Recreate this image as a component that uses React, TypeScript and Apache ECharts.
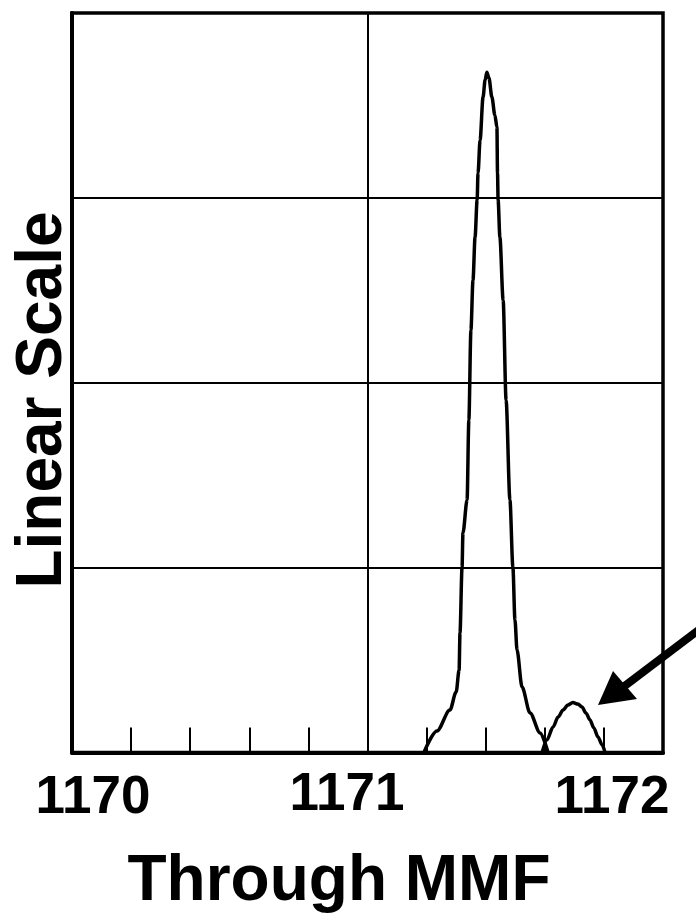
import React, { useEffect, useRef } from "react";
import * as echarts from "echarts";

// Main transmission peak (x: wavelength-like axis value, y: linear scale)
const mainPeakX = [
  1171.191, 1171.235, 1171.279, 1171.3, 1171.31, 1171.313, 1171.32, 1171.323,
  1171.337, 1171.343, 1171.35, 1171.357, 1171.364, 1171.371, 1171.374, 1171.381,
  1171.391, 1171.398, 1171.404, 1171.411, 1171.421, 1171.431, 1171.438, 1171.44,
  1171.442, 1171.448, 1171.459, 1171.469, 1171.482, 1171.492, 1171.499, 1171.506,
  1171.523, 1171.55, 1171.584, 1171.611,
];
const mainPeakY = [
  0, 0.116, 0.23, 0.327, 0.446, 0.646, 1.003, 1.187,
  1.366, 1.798, 2.285, 2.555, 2.788, 2.988, 3.134, 3.313,
  3.545, 3.637, 3.68, 3.648, 3.545, 3.448, 3.383, 3.134,
  2.988, 2.788, 2.447, 1.906, 1.366, 1.003, 0.717, 0.554,
  0.354, 0.214, 0.106, 0,
];

// Small side peak (pointed to by the arrow)
const sidePeakX = [
  1171.591, 1171.607, 1171.628, 1171.645, 1171.662, 1171.678, 1171.695, 1171.712,
  1171.726, 1171.739, 1171.753, 1171.766, 1171.78, 1171.794, 1171.804,
];
const sidePeakY = [
  0, 0.068, 0.138, 0.192, 0.23, 0.257, 0.27, 0.262,
  0.246, 0.214, 0.176, 0.133, 0.084, 0.041, 0,
];

const xTickLabels = ["1170", "1171", "1172"];
const xAxisTitle = "Through MMF";
const yAxisTitle = "Linear Scale";

const FONT = '"Liberation Sans", Arial, Helvetica, sans-serif';

export default function App() {
  const ref = useRef<HTMLDivElement>(null);

  useEffect(() => {
    if (!ref.current) return;
    const chart = echarts.init(ref.current, undefined, { renderer: "svg" });

    const mainData = mainPeakX.map((x, i) => [x, mainPeakY[i]]);
    const sideData = sidePeakX.map((x, i) => [x, sidePeakY[i]]);

    const labelPos = [
      { x: 93, y: 794 },
      { x: 347, y: 791 },
      { x: 612, y: 794 },
    ];

    const option: any = {
      animation: false,
      backgroundColor: "#ffffff",
      grid: {
        left: 72,
        top: 13,
        right: 33,
        bottom: 160.5,
        show: true,
        borderColor: "#000",
        borderWidth: 3.5,
        backgroundColor: "transparent",
      },
      xAxis: {
        type: "value",
        min: 1170,
        max: 1172,
        interval: 0.2,
        axisLine: { show: true, lineStyle: { color: "#000", width: 4 } },
        axisTick: { show: true, inside: true, length: 25, lineStyle: { color: "#000", width: 2 } },
        axisLabel: { show: false },
        splitLine: { show: false },
      },
      yAxis: {
        type: "value",
        min: 0,
        max: 4,
        interval: 1,
        axisLine: { show: true, lineStyle: { color: "#000", width: 4 } },
        axisTick: { show: false },
        axisLabel: { show: false },
        splitLine: { show: true, lineStyle: { color: "#000", width: 2 } },
      },
      series: [
        {
          type: "line",
          data: mainData,
          showSymbol: false,
          smooth: 0.3,
          smoothMonotone: "x",
          lineStyle: { color: "#000", width: 3.5 },
          z: 5,
          markLine: {
            silent: true,
            symbol: "none",
            label: { show: false },
            lineStyle: { color: "#000", width: 2, type: "solid" },
            data: [{ xAxis: 1171 }],
          },
        },
        {
          type: "line",
          data: sideData,
          showSymbol: false,
          smooth: 0.3,
          smoothMonotone: "x",
          lineStyle: { color: "#000", width: 3.5 },
          z: 5,
        },
      ],
      graphic: [
        ...xTickLabels.map((t, i) => ({
          type: "text",
          x: labelPos[i].x,
          y: labelPos[i].y,
          style: {
            text: t,
            fill: "#000",
            font: `bold 53px ${FONT}`,
            textAlign: "center",
            textVerticalAlign: "middle",
          },
        })),
        {
          type: "text",
          x: 339,
          y: 878,
          style: {
            text: xAxisTitle,
            fill: "#000",
            font: `bold 64px ${FONT}`,
            textAlign: "center",
            textVerticalAlign: "middle",
          },
        },
        {
          type: "text",
          x: 38.5,
          y: 400,
          rotation: Math.PI / 2,
          style: {
            text: yAxisTitle,
            fill: "#000",
            font: `bold 64px ${FONT}`,
            textAlign: "center",
            textVerticalAlign: "middle",
          },
        },
        {
          type: "line",
          shape: { x1: 700, y1: 629, x2: 622, y2: 688 },
          style: { stroke: "#000", lineWidth: 8 },
          z: 10,
        },
        {
          type: "polygon",
          shape: { points: [[598, 705], [613, 671], [637, 699]] },
          style: { fill: "#000" },
          z: 10,
        },
      ],
    };

    chart.setOption(option);
    return () => chart.dispose();
  }, []);

  return (
    <div
      ref={ref}
      style={{ position: "fixed", left: 0, top: 0, width: 696, height: 913, background: "#fff" }}
    />
  );
}
